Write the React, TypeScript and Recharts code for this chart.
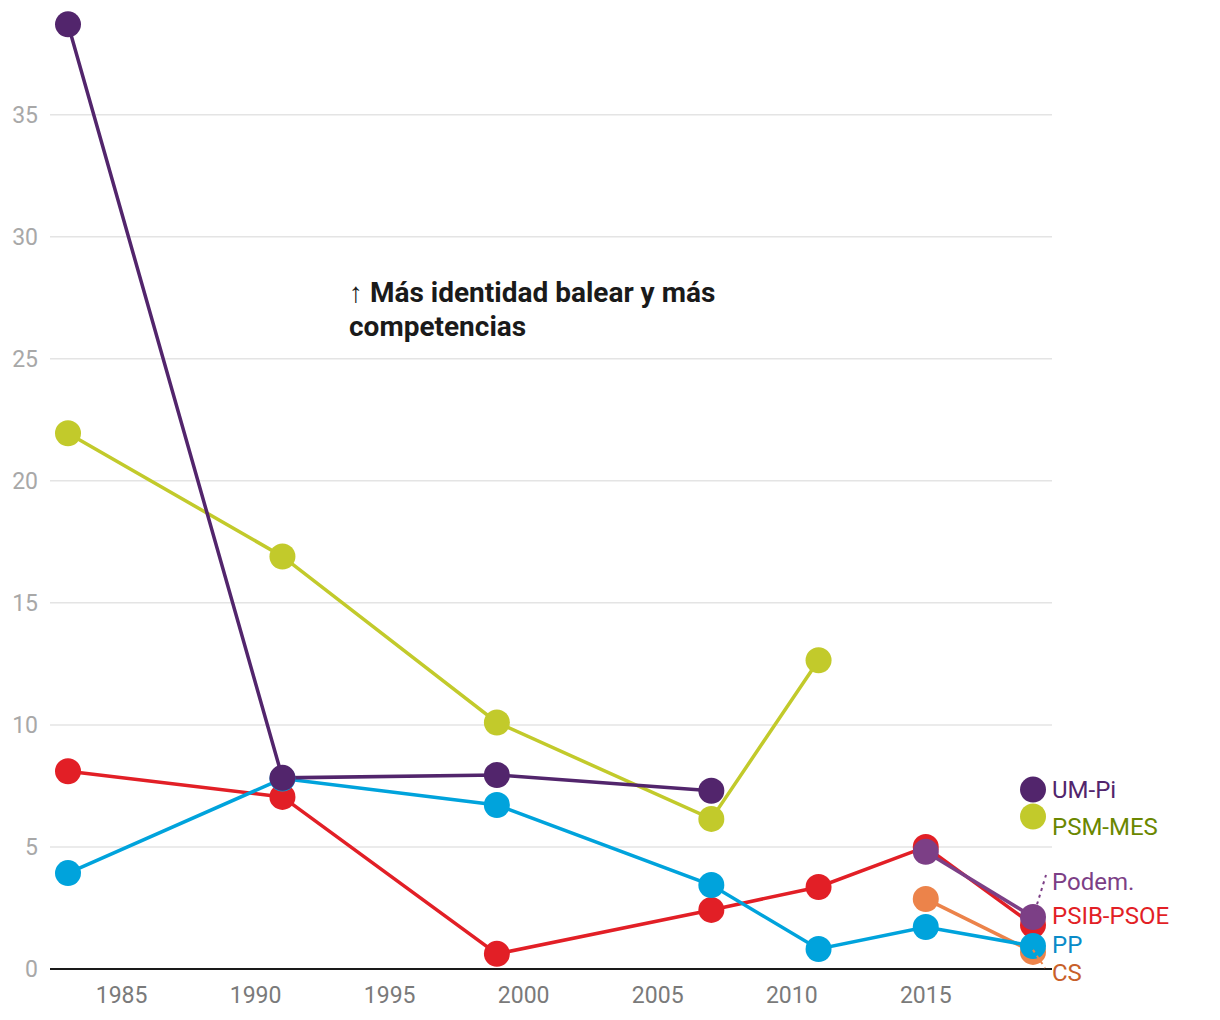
import React from "react";
import { LineChart, Line, XAxis, YAxis, CartesianGrid } from "recharts";

const years = [1983, 1991, 1999, 2007, 2011, 2015, 2019];
const umPi = [38.7, 7.83, 7.95, 7.3, null, null, 7.35];
const psmMes = [21.95, 16.9, 10.1, 6.15, 12.65, null, 6.25];
const psib = [8.1, 7.05, 0.62, 2.42, 3.36, 5.0, 1.8];
const pp = [3.93, 7.8, 6.72, 3.44, 0.82, 1.72, 0.94];
const cs = [null, null, null, null, null, 2.87, 0.7];
const podemos = [null, null, null, null, null, 4.8, 2.13];

const xTicks = [1985, 1990, 1995, 2000, 2005, 2010, 2015];
const yTicks = [0, 5, 10, 15, 20, 25, 30, 35];
const yDomain: [number, number] = [0, 39];

const data = years.map((y, i) => ({
  year: y,
  umPi: umPi[i],
  psmMes: psmMes[i],
  psib: psib[i],
  pp: pp[i],
  cs: cs[i],
  podemos: podemos[i],
}));

const FONT = "Roboto, 'Noto Sans', sans-serif";
const last = years.length - 1;

type SeriesDef = {
  key: string;
  name: string;
  color: string;
  labelColor: string;
  dy: number;
  leader?: [number, number, number, number];
};

const series: SeriesDef[] = [
  { key: "psib", name: "PSIB-PSOE", color: "#e21f26", labelColor: "#e21f26", dy: -9 },
  { key: "cs", name: "CS", color: "#ec834a", labelColor: "#c8602a", dy: 21, leader: [0, -2, 12, 16] },
  { key: "pp", name: "PP", color: "#00a3dc", labelColor: "#0a8bc8", dy: -1 },
  { key: "psmMes", name: "PSM-MES", color: "#c2ca2b", labelColor: "#6b8700", dy: 11 },
  { key: "umPi", name: "UM-Pi", color: "#52256c", labelColor: "#52256c", dy: 0 },
  { key: "podemos", name: "Podem.", color: "#7c3f86", labelColor: "#7c3f86", dy: -35, leader: [2, -6, 13, -42] },
];

const makeLabel = (s: SeriesDef) => (props: any) => {
  const { x, y, index, value } = props;
  if (index !== last || value == null || x == null || y == null) return null;
  return (
    <g>
      {s.leader && (
        <line
          x1={x + s.leader[0]}
          y1={y + s.leader[1]}
          x2={x + s.leader[2]}
          y2={y + s.leader[3]}
          stroke={s.color}
          strokeWidth={2}
          strokeDasharray="3 4"
        />
      )}
      <text
        x={x + 19}
        y={y + s.dy}
        fill={s.labelColor}
        fontSize={24}
        fontFamily={FONT}
        dominantBaseline="central"
      >
        {s.name}
      </text>
    </g>
  );
};

const gridRows = (p: any) => {
  const off = p && p.offset;
  if (!off) return [];
  return yTicks.map(
    (t) => off.top + off.height * (1 - (t - yDomain[0]) / (yDomain[1] - yDomain[0]))
  );
};

export default function App() {
  return (
    <div style={{ position: "absolute", left: 0, top: 0, width: 1220, height: 1020, background: "#fff" }}>
      <LineChart
        width={1220}
        height={1020}
        data={data}
        margin={{ top: 17, right: 168, bottom: 0, left: 0 }}
      >
        <CartesianGrid
          vertical={false}
          stroke="#e4e4e4"
          strokeWidth={1.5}
          horizontalCoordinatesGenerator={gridRows}
        />
        <XAxis
          dataKey="year"
          type="number"
          domain={[1983, 2019]}
          ticks={xTicks}
          padding={{ left: 18, right: 19 }}
          axisLine={{ stroke: "#1a1a1a", strokeWidth: 2 }}
          tickLine={false}
          tickSize={0}
          tickMargin={18}
          tick={{ fill: "#7a7a7a", fontSize: 23, fontFamily: FONT }}
          height={51}
        />
        <YAxis
          type="number"
          domain={yDomain}
          ticks={yTicks}
          axisLine={false}
          tickLine={false}
          tickSize={0}
          tickMargin={12}
          width={50}
          tick={{ fill: "#a8a8a8", fontSize: 23, fontFamily: FONT }}
        />
        {series.map((s) => (
          <Line
            key={s.key}
            dataKey={s.key}
            stroke={s.color}
            strokeWidth={3.5}
            dot={{ r: 13, fill: s.color, stroke: s.color, strokeWidth: 0 }}
            activeDot={false}
            connectNulls={false}
            isAnimationActive={false}
            label={makeLabel(s)}
          />
        ))}
      </LineChart>
      <div
        style={{
          position: "absolute",
          left: 349,
          top: 276,
          width: 420,
          fontFamily: FONT,
          fontWeight: 700,
          fontSize: 28,
          lineHeight: "34px",
          color: "#1a1a1a",
        }}
      >
        ↑ Más identidad balear y más competencias
      </div>
    </div>
  );
}
